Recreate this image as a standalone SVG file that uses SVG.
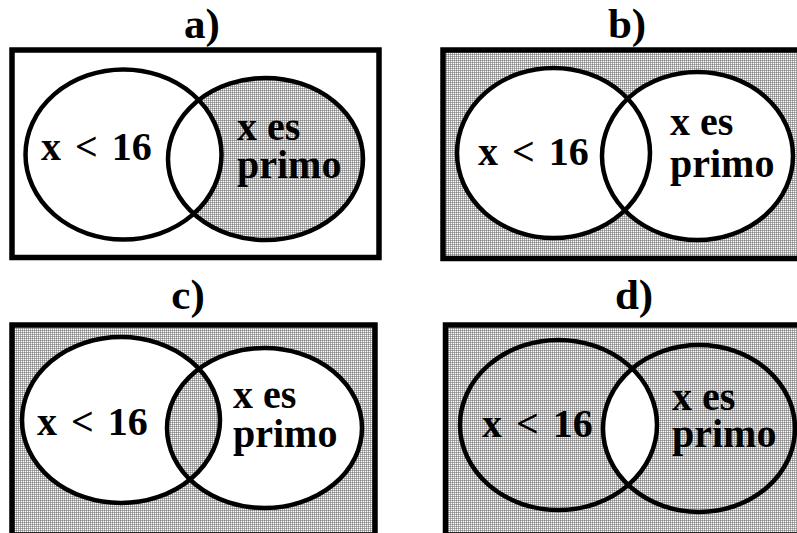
<svg xmlns="http://www.w3.org/2000/svg" width="797" height="533" viewBox="0 0 797 533">
<style>
.frame{fill:none;stroke:#000;stroke-width:5.5}
.ring{fill:none;stroke:#000;stroke-width:4.5}
.t{font-family:"Liberation Serif","Times New Roman",serif;font-weight:bold;fill:#000}
.title{font-size:43px;text-anchor:middle}
.lab{font-size:40px}
.lt{word-spacing:4px}
</style>
<defs>
<pattern id="dots" width="2" height="2" patternUnits="userSpaceOnUse">
<rect width="2" height="2" fill="#fff"/>
<rect width="1" height="1" fill="#8a8a8a"/>
<rect x="1" width="1" height="1" fill="#b0b0b0"/>
<rect y="1" width="1" height="1" fill="#b0b0b0"/>
</pattern>
<clipPath id="clipCL"><ellipse cx="121" cy="420" rx="99" ry="83"/></clipPath>
<clipPath id="clipDL"><ellipse cx="558.5" cy="425" rx="98.5" ry="85"/></clipPath>
</defs>
<rect width="797" height="533" fill="#fff"/>

<g id="panel-a">
<text class="t title" x="202" y="38">a)</text>
<rect x="12" y="50" width="367" height="207.5" fill="#fff"/>
<ellipse cx="265.5" cy="159" rx="97.5" ry="81" fill="url(#dots)"/>
<ellipse cx="123.5" cy="154.5" rx="98" ry="85" fill="#fff"/>
<ellipse class="ring" cx="123.5" cy="154.5" rx="98" ry="85"/>
<ellipse class="ring" cx="265.5" cy="159" rx="97.5" ry="81"/>
<rect class="frame" x="12" y="50" width="367" height="207.5"/>
<text class="t lab lt" x="41" y="160">x &lt; 16</text>
<text class="t lab" x="237" y="140">x es<tspan x="237" y="178">primo</tspan></text>
</g>

<g id="panel-b">
<text class="t title" x="627" y="38">b)</text>
<rect x="443" y="50" width="360" height="208.5" fill="url(#dots)"/>
<ellipse cx="553.5" cy="153" rx="96.5" ry="85" fill="#fff"/>
<ellipse cx="697.5" cy="156" rx="95.5" ry="84" fill="#fff"/>
<ellipse class="ring" cx="553.5" cy="153" rx="96.5" ry="85"/>
<ellipse class="ring" cx="697.5" cy="156" rx="95.5" ry="84"/>
<rect class="frame" x="443" y="50" width="360" height="208.5"/>
<text class="t lab lt" x="478" y="165">x &lt; 16</text>
<text class="t lab" x="670" y="135">x es<tspan x="670" y="177">primo</tspan></text>
</g>

<g id="panel-c">
<text class="t title" x="188" y="309">c)</text>
<rect x="12" y="325" width="363" height="210" fill="url(#dots)"/>
<ellipse cx="121" cy="420" rx="99" ry="83" fill="#fff"/>
<ellipse cx="264.5" cy="428" rx="97.5" ry="80" fill="#fff"/>
<ellipse cx="264.5" cy="428" rx="97.5" ry="80" fill="url(#dots)" clip-path="url(#clipCL)"/>
<ellipse class="ring" cx="121" cy="420" rx="99" ry="83"/>
<ellipse class="ring" cx="264.5" cy="428" rx="97.5" ry="80"/>
<rect class="frame" x="12" y="325" width="363" height="210"/>
<text class="t lab lt" x="37" y="435">x &lt; 16</text>
<text class="t lab" x="233" y="408">x es<tspan x="233" y="447">primo</tspan></text>
</g>

<g id="panel-d">
<text class="t title" x="634" y="309">d)</text>
<rect x="445.5" y="325" width="360" height="210" fill="url(#dots)"/>
<ellipse cx="699" cy="428.5" rx="96" ry="83.5" fill="#fff" clip-path="url(#clipDL)"/>
<ellipse class="ring" cx="558.5" cy="425" rx="98.5" ry="85"/>
<ellipse class="ring" cx="699" cy="428.5" rx="96" ry="83.5"/>
<rect class="frame" x="445.5" y="325" width="360" height="210"/>
<text class="t lab lt" x="482" y="437">x &lt; 16</text>
<text class="t lab" x="672" y="410">x es<tspan x="672" y="447">primo</tspan></text>
</g>

<g id="connectors"></g>
</svg>
